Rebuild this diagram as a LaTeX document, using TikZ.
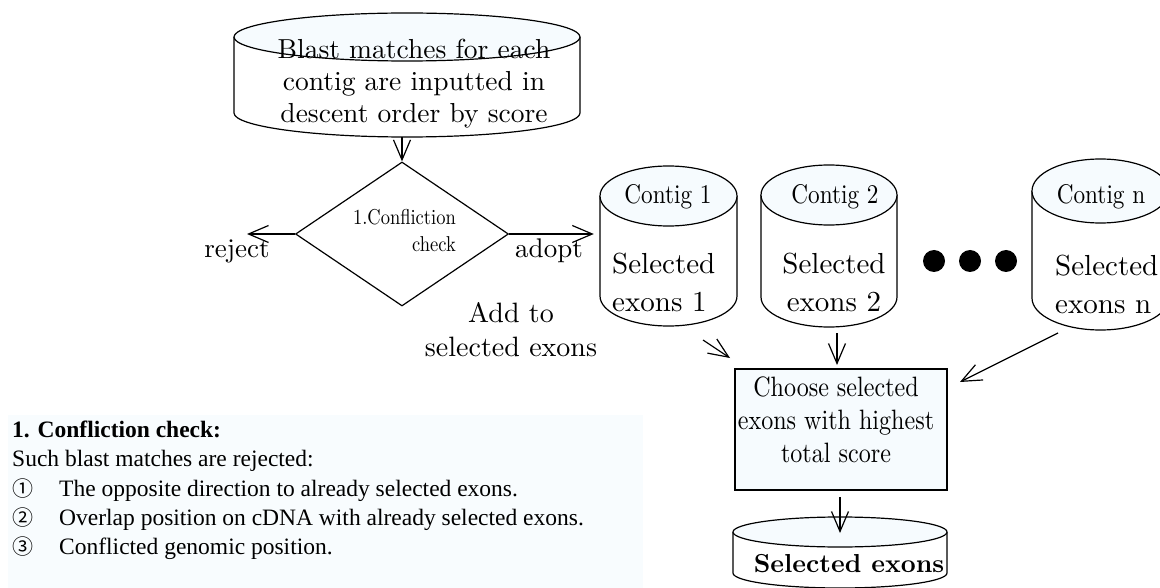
\documentclass[tikz,border=0pt]{standalone}
\usepackage{fontspec}
\usepackage{graphicx}
\setmainfont{lmroman10}[Extension=.otf,UprightFont=*-regular,BoldFont=*-bold,ItalicFont=*-italic,BoldItalicFont=*-bolditalic]
\newfontfamily\tnr{Liberation Serif}
\newfontfamily\cjk{Noto Sans CJK JP}
\usetikzlibrary{arrows.meta,shapes.geometric}
\definecolor{lightfill}{RGB}{246,251,254}
\definecolor{panelfill}{RGB}{248,252,254}
\newcommand\fs[2]{\fontsize{#1}{#2}\selectfont}
\newcommand\cnd[2][0.86]{\scalebox{#1}[1]{#2}}
% cylinder outline: #1 cx, #2 rx, #3 ytop, #4 ybot, #5 ry
\newcommand\mycyl[5]{%
  \draw[outl,fill=white] ({#1-#2},{#3+#5}) -- ({#1-#2},{#4-#5})
     arc[start angle=180,end angle=0,x radius=#2,y radius=#5] -- ({#1+#2},{#3+#5});
  \draw[outl,fill=lightfill] (#1,{#3+#5}) ellipse[x radius=#2,y radius=#5];
}
\tikzset{
  outl/.style={line width=1.2pt},
  arr/.style={line width=1.2pt,-{Straight Barb[length=20pt,width=17pt,line width=1.2pt]}},
  holder/.style={inner sep=0pt,minimum width=#1},
  txt/.style={inner sep=0pt},
}
\begin{document}
\begin{tikzpicture}[x=1pt,y=-1pt]
\useasboundingbox (0,0) rectangle (1160,588);
% note panel
\fill[panelfill] (8,415) rectangle (643,588);
\node[txt,anchor=north west,align=left,font=\tnr\fs{23.5}{29.2}] (note) at (12,421)
 {\textbf{1. Confliction check:}\\
  Such blast matches are rejected:\\
  \makebox[47pt][l]{\cjk\fs{21}{29.2}①}The opposite direction to already selected exons.\\
  \makebox[47pt][l]{\cjk\fs{21}{29.2}②}Overlap position on cDNA with already selected exons.\\
  \makebox[47pt][l]{\cjk\fs{21}{29.2}③}Conflicted genomic position.};
% top cylinder
\mycyl{407}{173}{13}{137}{24}
\node[holder=346pt,minimum height=124pt] (top) at (407,75) {};
\node[txt,align=center,font=\fs{27.5}{32}] (toptxt) at (414,84)
 {Blast matches for each\\contig are inputted in\\descent order by score};
% decision
\node[diamond,draw,outl,minimum width=213pt,minimum height=144pt,inner sep=0pt] (dia) at (402,234) {};
\node[txt,align=right,anchor=east,font=\fs{21.5}{27}] (diatxt) at (456,231) {\cnd[0.86]{1.Confliction}\\\cnd[0.86]{check}};
\coordinate (rej) at (247,234);
\node[txt,anchor=base,font=\fs{27}{32}] (rejl) at (237,258) {reject};
\node[txt,anchor=base,font=\fs{27}{32}] (adpl) at (549,258) {adopt};
\node[txt,align=center,font=\fs{28}{34}] (addl) at (511,330) {Add to\\selected exons};
% contig cylinders
\mycyl{668.5}{68.5}{166}{326}{30}
\node[holder=137pt,minimum height=160pt] (c1) at (668.5,246) {};
\node[txt,anchor=base,font=\fs{27}{32}] (c1t) at (668,204) {\cnd{Contig 1}};
\node[txt,anchor=west,align=left,font=\fs{29}{38}] (c1b) at (612,282) {Selected\\exons 1};
\mycyl{829}{68}{165}{327}{30}
\node[holder=136pt,minimum height=162pt] (c2) at (829,246) {};
\node[txt,anchor=base,font=\fs{27}{32}] (c2t) at (835,204) {\cnd{Contig 2}};
\node[txt,align=center,font=\fs{29}{38}] (c2b) at (834,282) {Selected\\exons 2};
\mycyl{1100.5}{68.5}{159}{330}{32}
\node[holder=137pt,minimum height=171pt] (cn) at (1100.5,244.5) {};
\node[txt,anchor=base,font=\fs{27}{32}] (cnt) at (1101,204) {\cnd{Contig n}};
\node[txt,anchor=west,align=left,font=\fs{29}{38}] (cnb) at (1055,284) {Selected\\exons n};
% dots
\fill (934,261) circle[radius=11];
\fill (970,261) circle[radius=11];
\fill (1006,261) circle[radius=11];
% choose box
\node[draw,outl,fill=lightfill,minimum width=212pt,minimum height=121pt,inner sep=0pt] (box) at (841,429.5) {};
\node[txt,align=center,font=\fs{28}{33}] (boxt) at (836,420)
 {\cnd{Choose selected}\\\cnd{exons with highest}\\\cnd{total score}};
% result cylinder
\mycyl{840}{107}{517}{588}{15}
\node[holder=214pt,minimum height=71pt] (res) at (840,552.5) {};
\node[txt,anchor=base,font=\fs{26}{30}\bfseries] (rest) at (849,572) {Selected exons};
% connector end points
\coordinate (a1s) at (703,340); \coordinate (a1e) at (730,358);
\coordinate (a2s) at (837,333); \coordinate (a2e) at (837,365);
\coordinate (ans) at (1058,333); \coordinate (ane) at (960,382);
\coordinate (abs) at (840,497); \coordinate (abe) at (840,533);
% connectors
\draw[arr] (dia.north |- top.south) -- (dia.north);
\draw[arr] (dia.west) -- (rej);
\draw[arr,shorten >=6pt] (dia.east) -- (dia.east -| c1.west);
\draw[arr] (a1s) -- (a1e);
\draw[arr] (a2s) -- (a2e);
\draw[arr] (ans) -- (ane);
\draw[arr] (abs) -- (abe);
\end{tikzpicture}
\end{document}
